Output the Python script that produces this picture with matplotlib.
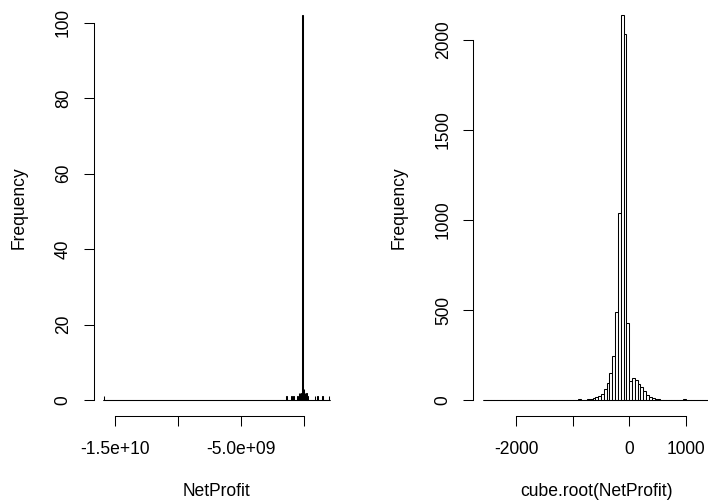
import matplotlib
matplotlib.use('Agg')
import matplotlib.pyplot as plt
import numpy as np

plt.rcParams['font.family'] = ['Liberation Sans', 'DejaVu Sans']

# left panel: hist(NetProfit), narrow bins from -1.6e10 to 2.1e9
np_start, np_stop, np_step = -1.6e10, 2.1e9, 5e7
np_bins = [-1.59e10, -1.4e9, -1.0e9, -8e8, -5e8, -4e8, -3e8, -2e8, -1e8,
           0.0, 1e8, 2e8, 3e8, 9e8, 1.1e9, 1.5e9, 2.0e9]
np_counts = [1, 1, 1, 1, 1, 2, 2, 2, 102, 3, 2, 2, 1, 1, 1, 1, 1]
np_ticks = [-1.5e10, -1.0e10, -5.0e9, 0]
np_ticklabels = ['-1.5e+10', '', '-5.0e+09', '']
np_yticks = [0, 20, 40, 60, 80, 100]

# right panel: hist(cube.root(NetProfit)), bins of 50 from -2600 to 1450
cr_start, cr_stop, cr_step = -2600, 1450, 50
cr_bins = [-2550, -900, -800, -750, -700, -650, -600, -550, -500, -450, -400,
           -350, -300, -250, -200, -150, -100, -50, 0, 50, 100, 150, 200, 250,
           300, 350, 400, 450, 500, 550, 600, 650, 950]
cr_counts = [1, 4, 2, 5, 8, 12, 17, 22, 36, 62, 95, 150, 246, 488, 1038, 2135,
             2033, 428, 108, 120, 112, 90, 70, 48, 30, 18, 12, 7, 4, 3, 1, 1, 4]
cr_ticks = [-2000, -1000, 0, 1000]
cr_ticklabels = ['-2000', '', '0', '1000']
cr_yticks = [0, 500, 1000, 1500, 2000]


def full_hist(start, stop, step, bins, counts):
    edges = np.arange(start, stop + step / 2, step)
    vals = np.zeros(len(edges) - 1)
    for b, c in zip(bins, counts):
        k = int(round((b - start) / step))
        vals[k] = c
    return edges, vals


def r_hist(ax, edges, vals, ticks, ticklabels, yticks, xlabel):
    ax.bar(edges[:-1], vals, width=np.diff(edges), align='edge',
           color='white', edgecolor='black', linewidth=0.75)
    # bottoms of the empty bins make one solid line in R
    ax.hlines(0, edges[0], edges[-1], color='black', linewidth=0.75)
    rng = edges[-1] - edges[0]
    ax.set_xlim(edges[0] - 0.04 * rng, edges[-1] + 0.04 * rng)
    top = vals.max()
    ax.set_ylim(-0.04 * top, 1.04 * top)
    for s in ['top', 'right']:
        ax.spines[s].set_visible(False)
    ax.spines['left'].set_bounds(yticks[0], yticks[-1])
    ax.spines['bottom'].set_bounds(ticks[0], ticks[-1])
    for s in ['left', 'bottom']:
        ax.spines[s].set_linewidth(0.75)
    ax.set_xticks(ticks)
    ax.set_xticklabels(ticklabels)
    ax.set_yticks(yticks)
    ax.set_yticklabels([str(t) for t in yticks])
    ax.tick_params(length=7.2, width=0.75, labelsize=12.65)
    ax.tick_params(axis='x', pad=11)
    ax.tick_params(axis='y', pad=8.4, labelrotation=90)
    for lab in ax.get_yticklabels():
        lab.set_verticalalignment('center')
    ax.set_xlabel(xlabel, fontsize=12.65, labelpad=17.9)
    ax.set_ylabel('Frequency', fontsize=12.65, labelpad=19.5)


fig = plt.figure(figsize=(7.08, 5.04), dpi=100)
W, H = 708, 504
ax1 = fig.add_axes([93.5 / W, (H - 415.5) / H, 245.5 / W, 415.5 / H])
ax2 = fig.add_axes([473.5 / W, (H - 415.5) / H, 246.5 / W, 415.5 / H])

e1, v1 = full_hist(np_start, np_stop, np_step, np_bins, np_counts)
r_hist(ax1, e1, v1, np_ticks, np_ticklabels, np_yticks, 'NetProfit')

e2, v2 = full_hist(cr_start, cr_stop, cr_step, cr_bins, cr_counts)
r_hist(ax2, e2, v2, cr_ticks, cr_ticklabels, cr_yticks, 'cube.root(NetProfit)')

fig.savefig('out.png', dpi=100)
